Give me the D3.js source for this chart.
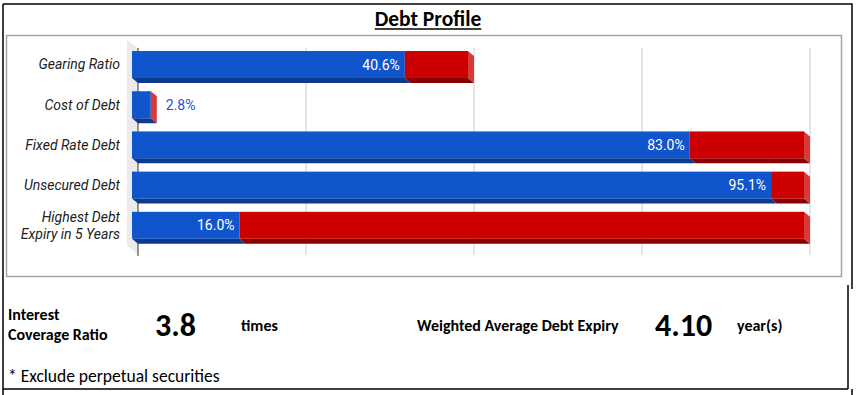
<!DOCTYPE html>
<html>
<head>
<meta charset="utf-8">
<script src="https://cdn.jsdelivr.net/npm/d3@7"></script>
<style>
  body { margin: 0; background: #fff; }
  svg { display: block; }
</style>
</head>
<body>
<svg id="chart"></svg>
<script>
// values
var categories = ["Gearing Ratio", "Cost of Debt", "Fixed Rate Debt", "Unsecured Debt", "Highest Debt|Expiry in 5 Years"];
var actualValues = [40.6, 2.8, 83.0, 95.1, 16.0];
var remainderValues = [9.4, 0, 17.0, 4.9, 84.0];
var valueLabels = ["40.6%", "2.8%", "83.0%", "95.1%", "16.0%"];
var gridTicks = [0, 25, 50, 75, 100];

var interestCover = "3.8";
var debtExpiry = "4.10";

var W = 857, H = 395;
var depthX = 6, depthY = 5;
var calibri = "Carlito, Lato, sans-serif";

var svg = d3.select("#chart")
      .attr("width", W)
      .attr("height", H)

// outer cell borders
svg.append("path")
      .attr("d", "M3,4H852V289 M3,4V395 M3,389H848 M848,285V389 M852,389V395")
      .attr("fill", "none")
      .attr("stroke", "#000")
      .attr("stroke-width", 1.5)

// title
var title = svg.append("text")
      .attr("x", 428)
      .attr("y", 26)
      .attr("text-anchor", "middle")
      .attr("font-family", calibri)
      .attr("font-weight", "bold")
      .attr("font-size", "21.5px")
      .attr("fill", "#000")
      .text("Debt Profile")
var tw = title.node().getComputedTextLength();
svg.append("line")
      .attr("x1", 428 - tw / 2).attr("x2", 428 + tw / 2)
      .attr("y1", 29).attr("y2", 29)
      .attr("stroke", "#000")
      .attr("stroke-width", 1.4)

// chart frame
svg.append("rect")
      .attr("x", 6.5).attr("y", 35.5)
      .attr("width", 835).attr("height", 241)
      .attr("fill", "#fff")
      .attr("stroke", "#a6a6a6")
      .attr("stroke-width", 1.5)

var x = d3.scaleLinear().domain([0, 100]).range([138, 810]);
var y = d3.scaleBand().domain(categories).range([44.4, 245.4])
      .paddingInner(0.33).paddingOuter(0.165);

// side wall
svg.append("polygon")
      .attr("points", [[127, 40], [138, 48], [138, 255], [127, 245]].join(" "))
      .attr("fill", "#ebebeb")

// gridlines
svg.selectAll(".grid")
      .data(gridTicks.slice(1))
      .enter()
      .append("line")
      .attr("x1", function(d) { return x(d); })
      .attr("x2", function(d) { return x(d); })
      .attr("y1", 48).attr("y2", 255)
      .attr("stroke", "#cccccc")
      .attr("stroke-width", 1)

svg.append("line")
      .attr("x1", x(0)).attr("x2", x(0))
      .attr("y1", 48).attr("y2", 256)
      .attr("stroke", "#333")
      .attr("stroke-width", 1)

// stacked 3D bars
var rows = categories.map(function(c, i) {
  return {cat: c, a: actualValues[i], r: remainderValues[i], label: valueLabels[i]};
});
var segs = [];
rows.forEach(function(d) {
  segs.push({cat: d.cat, v0: 0, v1: d.a, front: "#1155cc", bottom: "#0d3a8c"});
  if (d.r > 0) segs.push({cat: d.cat, v0: d.a, v1: d.a + d.r, front: "#cc0000", bottom: "#880000"});
});

var bw = y.bandwidth();

// bottom faces
svg.selectAll(".bottom")
      .data(segs)
      .enter()
      .append("polygon")
      .attr("fill", function(d) { return d.bottom; })
      .attr("points", function(d) {
        var x0 = x(d.v0) - depthX, x1 = x(d.v1) - depthX, yb = y(d.cat) + bw;
        return [[x0, yb], [x1, yb], [x1 + depthX, yb + depthY], [x0 + depthX, yb + depthY]].join(" ");
      })

// front faces
svg.selectAll(".front")
      .data(segs)
      .enter()
      .append("rect")
      .attr("x", function(d) { return x(d.v0) - depthX; })
      .attr("y", function(d) { return y(d.cat); })
      .attr("width", function(d) { return x(d.v1) - x(d.v0); })
      .attr("height", bw)
      .attr("fill", function(d) { return d.front; })

// right side face of each stack
svg.selectAll(".side")
      .data(rows)
      .enter()
      .append("polygon")
      .attr("fill", "#d83a3a")
      .attr("points", function(d) {
        var x1 = x(d.a + d.r) - depthX, yt = y(d.cat), yb = yt + bw;
        return [[x1, yt], [x1 + depthX, yt + depthY], [x1 + depthX, yb + depthY], [x1, yb]].join(" ");
      })

// value labels
function inside(d) { return x(d.a) - x(0) > 50; }
svg.selectAll(".val")
      .data(rows)
      .enter()
      .append("text")
      .attr("font-family", "Roboto, sans-serif")
      .attr("font-size", "14px")
      .attr("dominant-baseline", "central")
      .attr("y", function(d) { return y(d.cat) + bw / 2; })
      .attr("x", function(d) {
        return inside(d) ? x(d.a) - depthX - 5 : x(d.a + d.r) + 9;
      })
      .attr("text-anchor", function(d) { return inside(d) ? "end" : "start"; })
      .attr("fill", function(d) { return inside(d) ? "#fff" : "#1a56d6"; })
      .text(function(d) { return d.label; })

// category labels
var catText = svg.selectAll(".cat")
      .data(categories)
      .enter()
      .append("text")
      .attr("font-family", "Roboto, sans-serif")
      .attr("font-style", "italic")
      .attr("font-size", "14px")
      .attr("fill", "#222")
      .attr("text-anchor", "end")
      .attr("y", function(d) { return y(d) + bw / 2; })
catText.each(function(d) {
  var parts = d.split("|");
  var t = d3.select(this);
  parts.forEach(function(p, i) {
    t.append("tspan")
      .attr("x", 120)
      .attr("dy", i == 0 ? (0.35 - (parts.length - 1) * 0.6) + "em" : "1.2em")
      .text(p);
  });
})

// bottom summary
function label(txt, xx, yy, size, weight) {
  return svg.append("text")
      .attr("x", xx).attr("y", yy)
      .attr("font-family", calibri)
      .attr("font-size", size)
      .attr("font-weight", weight)
      .attr("fill", "#000")
      .text(txt);
}
label("Interest", 8, 320, "16px", "bold");
label("Coverage Ratio", 8, 340, "16px", "bold");
label(interestCover, 155, 336, "32px", "bold");
label("times", 241, 331, "16px", "bold");
label("Weighted Average Debt Expiry", 417, 331, "16px", "bold");
label(debtExpiry, 655, 336, "32px", "bold");
label("year(s)", 737, 331, "16px", "bold");
label("* Exclude perpetual securities", 8, 382, "17.5px", "normal");
</script>
</body>
</html>
